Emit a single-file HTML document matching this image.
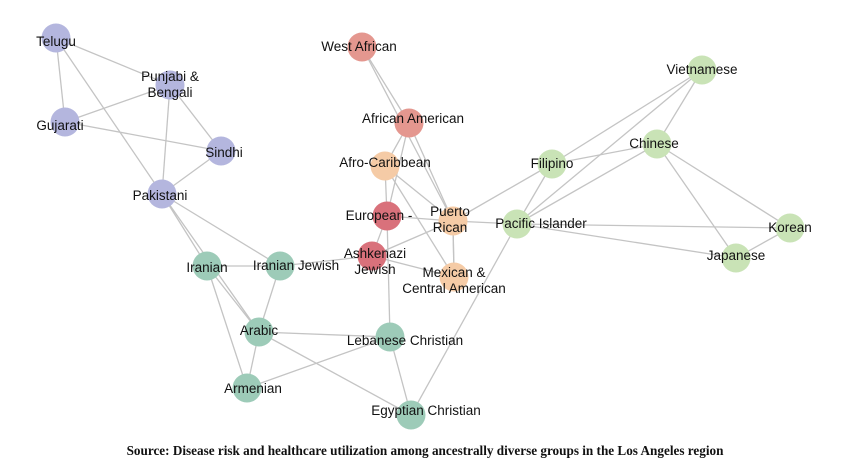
<!DOCTYPE html>
<html><head><meta charset="utf-8"><style>
html,body{margin:0;padding:0;background:#fff;}
svg{display:block;}
.lbl{font-family:"Liberation Sans",sans-serif;font-size:13.5px;fill:#111;text-anchor:middle;dominant-baseline:middle;}
.cap{font-family:"Liberation Serif",serif;font-size:13.2px;font-weight:bold;fill:#111;text-anchor:middle;}
</style></head><body>
<svg id="chart" width="850" height="471">
<g id="edges"></g>
<g id="nodes"></g>
<text class="cap" x="425" y="455">Source: Disease risk and healthcare utilization among ancestrally diverse groups in the Los Angeles region</text>
</svg>
<script>
const nodeNames = ["Telugu","Punjabi & Bengali","Gujarati","Sindhi","Pakistani","West African","African American","Afro-Caribbean","European -","Ashkenazi Jewish","Puerto Rican","Mexican & Central American","Vietnamese","Chinese","Filipino","Pacific Islander","Korean","Japanese","Iranian","Iranian Jewish","Arabic","Lebanese Christian","Armenian","Egyptian Christian"];
const nodeX = [56,170,65,221,162,362,409,385,387,372,453,454,702,657,552,517,790,736,207,280,259,390,247,411];
const nodeY = [38,85,122,151,194,47,123,166,216,256,221,277,70,144,164,224,228,258,266,266,332,337,388,415];
const nodeGroup = ["s","s","s","s","s","a","a","c","e","e","c","c","g","g","g","g","g","g","m","m","m","m","m","m"];
const labelLines = [["Telugu"],["Punjabi &","Bengali"],["Gujarati"],["Sindhi"],["Pakistani"],["West African"],["African American"],["Afro-Caribbean"],["European -"],["Ashkenazi","Jewish"],["Puerto","Rican"],["Mexican &","Central American"],["Vietnamese"],["Chinese"],["Filipino"],["Pacific Islander"],["Korean"],["Japanese"],["Iranian"],["Iranian Jewish"],["Arabic"],["Lebanese Christian"],["Armenian"],["Egyptian Christian"]];
const labelDX = [0,0,-5,3,-2,-3,4,0,-8,3,-3,0,0,-3,0,24,0,0,0,16,0,15,6,15];
const labelDY = [4,0,4,2,2,0,-4,-3,0,6,-1,4,0,0,0,0,0,-2,2,0,-1,4,1,-4];
const edgeFrom = [0,0,0,2,2,1,1,3,4,4,4,18,18,18,19,20,20,20,22,21,5,5,6,6,6,7,7,7,8,8,8,9,9,9,10,10,10,11,12,12,12,14,13,13,13,14,15,15,16,15];
const edgeTo   = [1,2,4,1,3,3,4,4,18,20,19,19,20,22,20,22,21,23,21,23,6,10,7,8,10,8,10,11,10,9,21,10,11,19,11,15,14,10,14,15,13,13,15,16,17,15,16,17,17,23];
const groupColor = {s:"#b4b6de",a:"#e4978f",c:"#f5cba6",e:"#d9717b",g:"#c9e3b6",m:"#9dcbb8"};
const eg=document.getElementById('edges'), ng=document.getElementById('nodes');
const NS="http://www.w3.org/2000/svg";
for(let k=0;k<edgeFrom.length;k++){
  const a=edgeFrom[k],b=edgeTo[k];
  const l=document.createElementNS(NS,'line');
  l.setAttribute('x1',nodeX[a]);l.setAttribute('y1',nodeY[a]);
  l.setAttribute('x2',nodeX[b]);l.setAttribute('y2',nodeY[b]);
  l.setAttribute('stroke','#c4c4c4');l.setAttribute('stroke-width','1.3');
  
  
  eg.appendChild(l);
}
for(let i=0;i<nodeNames.length;i++){
  const c=document.createElementNS(NS,'circle');
  c.setAttribute('cx',nodeX[i]);c.setAttribute('cy',nodeY[i]);c.setAttribute('r',14.5);
  c.setAttribute('fill',groupColor[nodeGroup[i]]);
  
  
  ng.appendChild(c);
}
for(let i=0;i<nodeNames.length;i++){
  const lines=labelLines[i];
  const t=document.createElementNS(NS,'text');
  t.setAttribute('class','lbl');
  
  
  const base=nodeY[i]+labelDY[i]-(lines.length-1)*8;
  lines.forEach((s,j)=>{
    const ts=document.createElementNS(NS,'tspan');
    ts.setAttribute('x',nodeX[i]+labelDX[i]);ts.setAttribute('y',base+j*16);
    ts.textContent=s;t.appendChild(ts);
  });
  ng.appendChild(t);
}
</script>
</body></html>
